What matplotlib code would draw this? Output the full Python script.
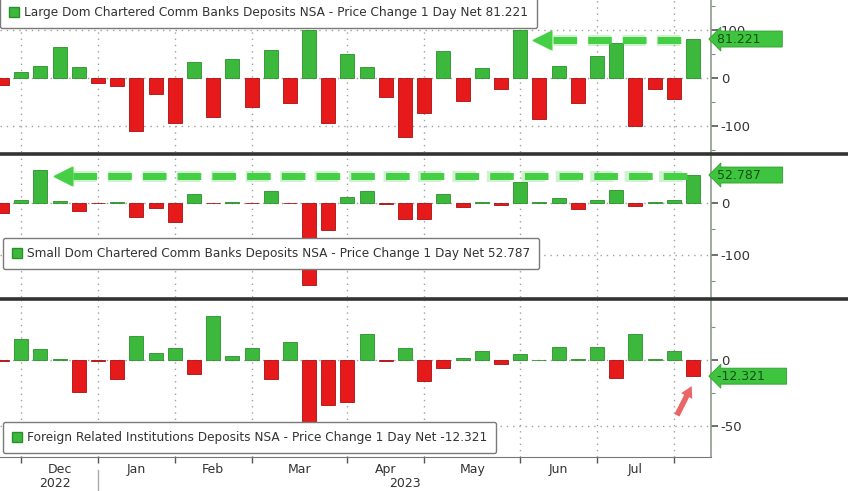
import matplotlib
matplotlib.use("Agg")
import matplotlib.pyplot as plt
import matplotlib.transforms as mtransforms
import pandas as pd
from matplotlib.lines import Line2D
from matplotlib.patches import Patch
from matplotlib.ticker import MultipleLocator

plt.rcParams['font.family'] = ['DejaVu Sans']
plt.rcParams['axes.unicode_minus'] = False

# weekly H.8 observations (Wednesdays)
weeks = pd.date_range("2022-11-30", periods=37, freq="W-WED")

# 1 day net change, $bn
large = [-14, 12, 26, 64, 23, -10, -16, -110, -33, -94, 34, -81, 40, -60, 58, -52,
         100, -94, 50, 23, -40, -123, -73, 56, -47, 21, -23, 100, -85, 26, -51, 45,
         73, -100, -23, -44, 81.221]
small = [-19, 5, 62, 4, -15, -1, 1, -27, -11, -36, 16, -1, 1, -1, 22, -1,
         -157, -52, 10, 23, -3, -32, -32, 16, -8, 1, -4, 39, 1, 8, -13, 5,
         24, -6, 1, 6, 52.787]
foreign = [-0.5, 15.7, 8, 0.5, -24.6, -1, -14.5, 18.5, 5.6, 9, -10.7, 33.5, 3, 9, -14.5, 14,
           -47.5, -34, -31.7, 19.5, -0.5, 9, -16, -6.3, 1.5, 7, -3, 4.6, 0.3, 10, 1, 10,
           -14, 19.5, 0.5, 7, -12.321]

series_names = [
    "Large Dom Chartered Comm Banks Deposits NSA - Price Change 1 Day Net 81.221",
    "Small Dom Chartered Comm Banks Deposits NSA - Price Change 1 Day Net 52.787",
    "Foreign Related Institutions Deposits NSA - Price Change 1 Day Net -12.321",
]
last_tags = ["81.221", "52.787", "-12.321"]

GREEN = "#3cb83c"
GREEN_EDGE = "#2a8f2a"
RED = "#e61a1a"
RED_EDGE = "#a80f0f"
TAG_GREEN = "#3fc43f"
ARROW_GREEN = "#45cf45"
TXT = "#333333"

W, H = 848, 491
fig = plt.figure(figsize=(W / 100, H / 100), dpi=100)


def px_axes(top, bottom):
    return fig.add_axes([0, 1 - bottom / H, 711 / W, (bottom - top) / H])


x = list(range(len(weeks)))
month_starts = [i for i in range(1, len(weeks)) if weeks[i].month != weeks[i - 1].month]
month_names = [weeks[month_starts[k]].strftime("%b") for k in range(len(month_starts) - 1)]
month_mid = [(month_starts[k] + month_starts[k + 1]) / 2 for k in range(len(month_starts) - 1)]
xlim = (-0.104, 36.94)

# (values, px top, px bottom, ylim, major, minor, legend anchor)
panels = [
    (large, 0, 152, (-154, 162.5), 100, 50, (0.0, 1.02)),
    (small, 155, 297, (-180, 91), 100, 50, (0.004, 0.415)),
    (foreign, 300, 457, (-73.9, 45.7), 50, 25, (0.004, 0.223)),
]

axes = []
for k, (vals, top, bottom, ylim, major, minor, anchor) in enumerate(panels):
    ax = px_axes(top, bottom)
    axes.append(ax)
    cols = [GREEN if v >= 0 else RED for v in vals]
    edges = [GREEN_EDGE if v >= 0 else RED_EDGE for v in vals]
    ax.bar(x, vals, width=0.73, color=cols, edgecolor=edges, linewidth=0.6, zorder=3)
    ax.set_xlim(*xlim)
    ax.set_ylim(*ylim)

    ax.yaxis.tick_right()
    ax.yaxis.set_major_locator(MultipleLocator(major))
    ax.yaxis.set_minor_locator(MultipleLocator(minor))
    ax.tick_params(axis='y', which='major', length=5, width=1.2, color='#555',
                   labelsize=9.5, labelcolor=TXT, pad=2)
    ax.tick_params(axis='y', which='minor', length=3, width=0.8, color='#888')

    ax.set_xticks(month_starts)
    ax.set_xticklabels([])
    if k < 2:
        ax.tick_params(axis='x', which='both', length=0)
    else:
        ax.tick_params(axis='x', which='major', length=4, width=1, color='#555', direction='out')

    ax.grid(True, which='major', color='#a0a0a0', linestyle=(0, (1, 3.5)), linewidth=1.0)
    ax.set_axisbelow(True)

    for s in ['top', 'left']:
        ax.spines[s].set_visible(False)
    ax.spines['bottom'].set_visible(k == 2)
    ax.spines['bottom'].set_color('#777')
    ax.spines['right'].set_color('#8c9c8c')
    ax.spines['right'].set_linewidth(1.2)

    leg = ax.legend(handles=[Patch(fc=GREEN, ec=GREEN_EDGE)], labels=[series_names[k]],
                    loc='upper left', bbox_to_anchor=anchor, fontsize=8.7,
                    handlelength=0.85, handleheight=0.85, handletextpad=0.4,
                    borderpad=0.75, borderaxespad=0, fancybox=True, framealpha=1,
                    edgecolor='#7a7a7a', labelcolor=TXT)
    leg.get_frame().set_linewidth(1.0)
    leg.set_zorder(6)

    trans = mtransforms.blended_transform_factory(ax.transAxes, ax.transData)
    ax.annotate(last_tags[k] + "     ", xy=(1.0, vals[-1]), xycoords=trans,
                xytext=(4.5, 0), textcoords='offset points', ha='left', va='center',
                fontsize=9, color='#125212', annotation_clip=False, zorder=10,
                bbox=dict(boxstyle='larrow,pad=0.12', fc=TAG_GREEN, ec='#2e9e2e', lw=0.6))

# dashed green arrows
def dashed_arrow(ax, x0, x1, y, head):
    ax.plot([x0, x1], [y, y], color=ARROW_GREEN, lw=8, alpha=0.25,
            dashes=(2.1, 1.0), zorder=4)
    ax.plot([x0, x1], [y, y], color=ARROW_GREEN, lw=5, dashes=(3.4, 1.6), zorder=5)
    ax.plot([head], [y], marker='<', ms=15, color=ARROW_GREEN, alpha=0.3, zorder=4)
    ax.plot([head], [y], marker='<', ms=13, color=ARROW_GREEN, zorder=5)


dashed_arrow(axes[0], 28.7, 35.6, 79, 28.15)
dashed_arrow(axes[1], 3.7, 35.8, 51, 3.2)

# red pointer at latest foreign bar
ax = axes[2]
ax.annotate('', xy=(36.0, -18), xytext=(35.1, -44),
            arrowprops=dict(arrowstyle='simple,head_width=0.9,head_length=0.8,tail_width=0.4',
                            color='#e85555', alpha=0.9, lw=0), zorder=6)

# bottom axis: month names and years
ax.set_xticks(month_mid, minor=True)
ax.set_xticklabels(month_names, minor=True)
ax.tick_params(axis='x', which='minor', length=0, pad=4, labelsize=9, labelcolor=TXT)
btrans = mtransforms.blended_transform_factory(ax.transData, ax.transAxes)
year_split = month_starts[1]
ax.text((xlim[0] + year_split) / 2 + 0.3, -0.168, str(weeks[0].year), transform=btrans,
        ha='center', va='center', fontsize=9, color=TXT)
ax.text((year_split + xlim[1]) / 2, -0.168, str(weeks[-1].year), transform=btrans,
        ha='center', va='center', fontsize=9, color=TXT)
ax.plot([year_split, year_split], [-0.085, -0.22], transform=btrans, color='#aaaaaa',
        lw=1, clip_on=False)

# dark panel separators
for ypx in (153.5, 298.5):
    fig.add_artist(Line2D([0, 1], [1 - ypx / H] * 2, transform=fig.transFigure,
                          color='#333333', lw=2.6))

fig.savefig("out.png", dpi=100)
